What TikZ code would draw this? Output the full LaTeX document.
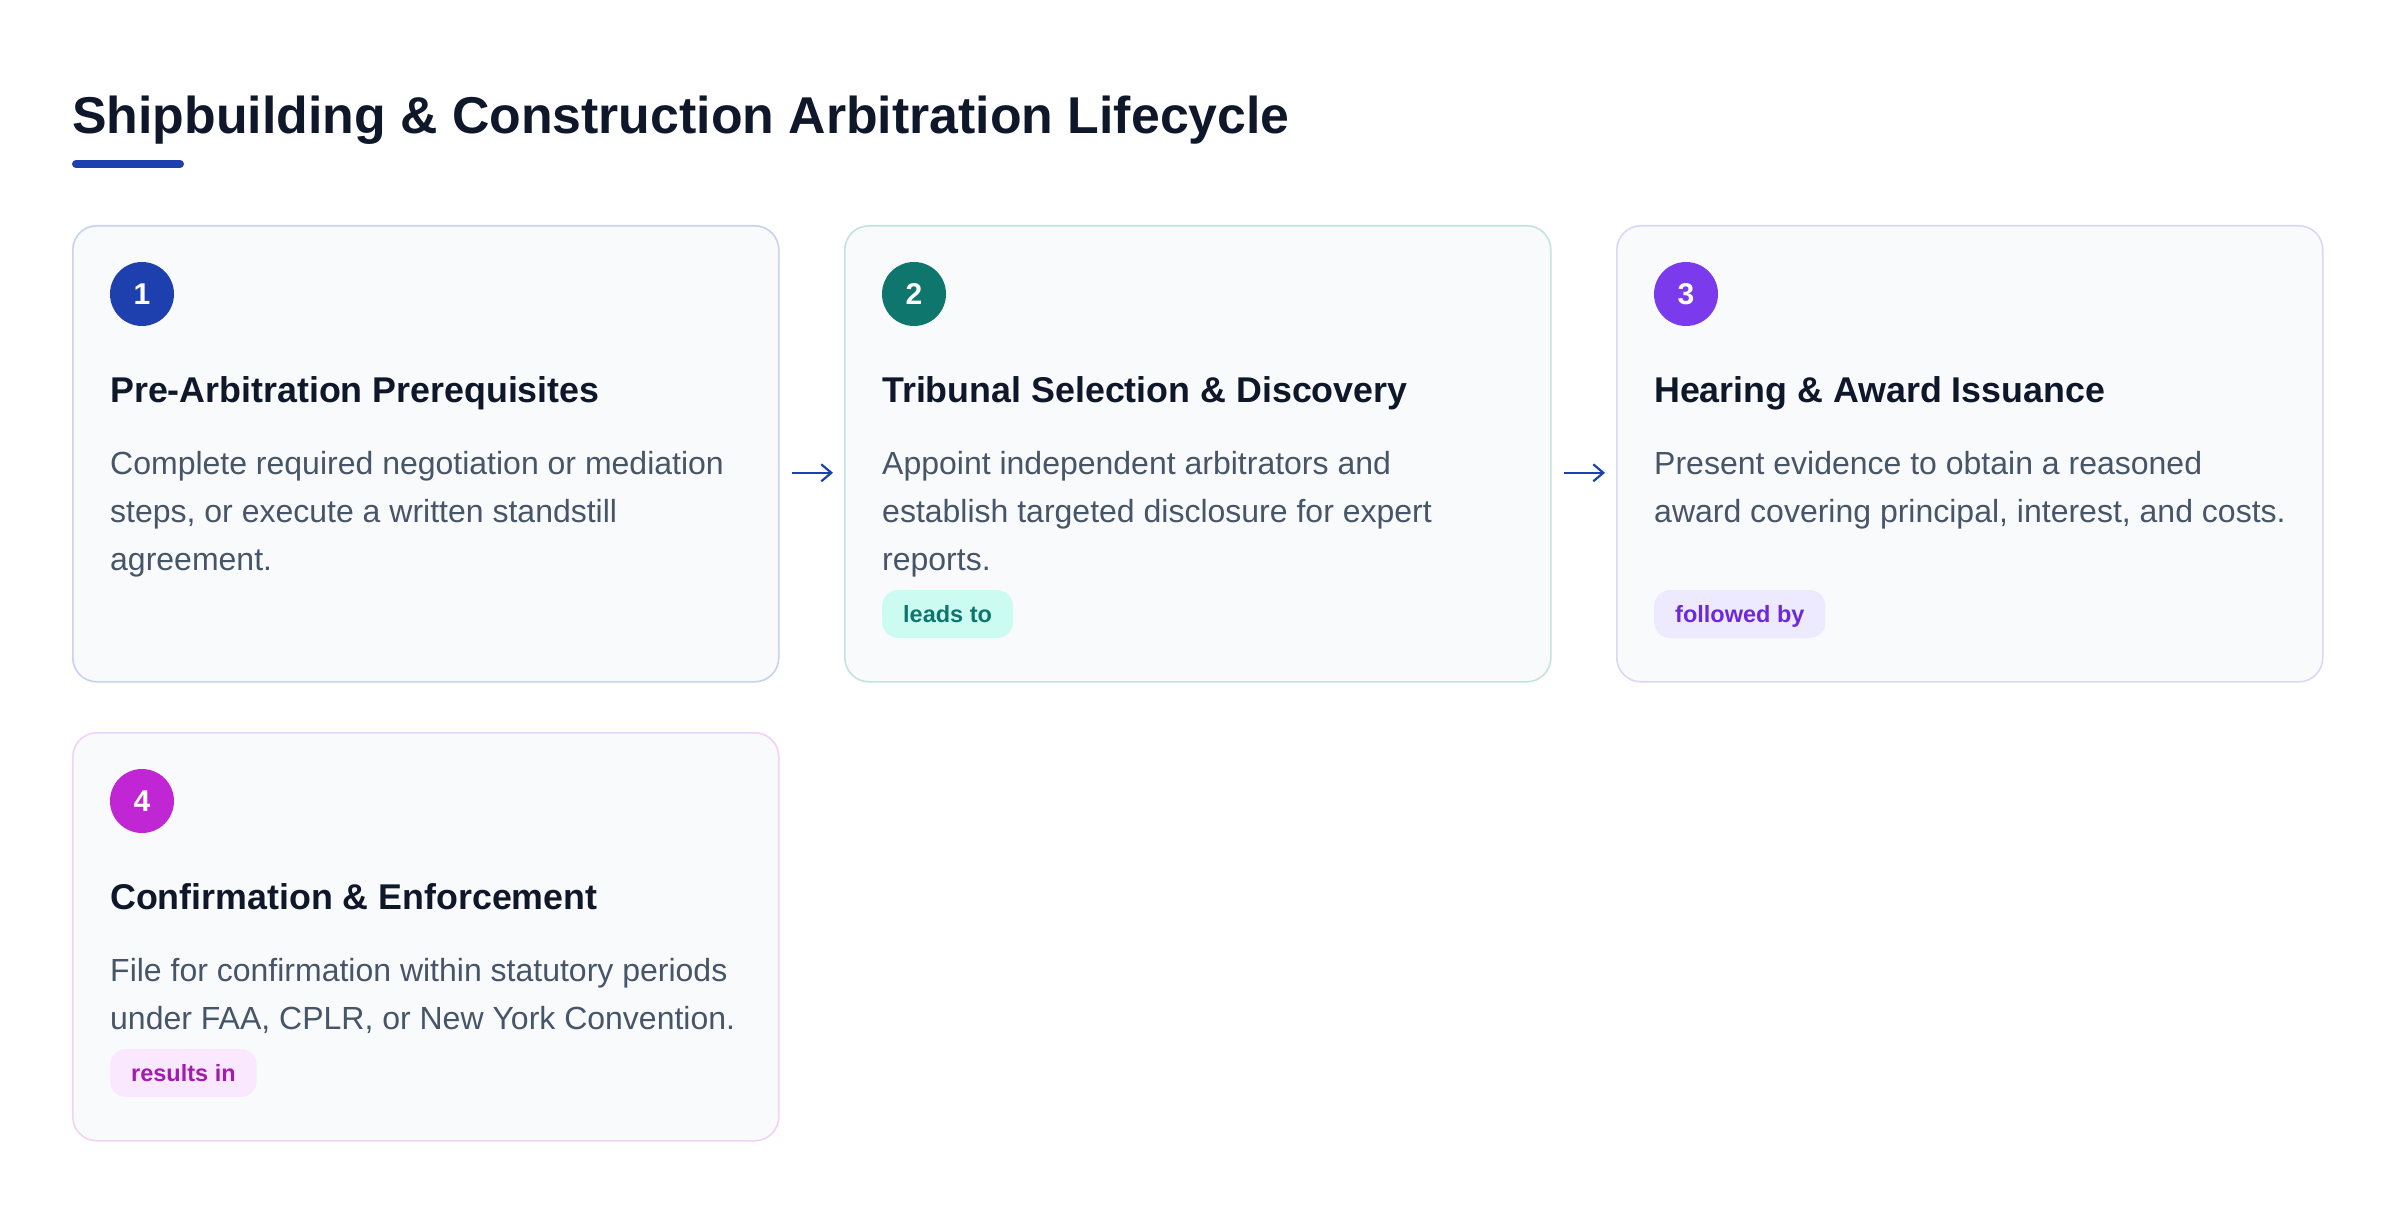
\documentclass[tikz,border=0pt]{standalone}
\usepackage{fontspec}
\setmainfont{Liberation Sans}
\usetikzlibrary{arrows.meta}
\definecolor{ink}{HTML}{0F172A}
\definecolor{slate}{HTML}{475569}
\definecolor{cardfill}{HTML}{F8FAFC}
\definecolor{blueone}{HTML}{1E40AF}
\definecolor{tealtwo}{HTML}{0F766E}
\definecolor{purplethree}{HTML}{7C3AED}
\definecolor{pinkfour}{HTML}{C026D3}
\definecolor{bordone}{HTML}{C7D2F0}
\definecolor{bordtwo}{HTML}{C5E2DF}
\definecolor{bordthree}{HTML}{DDD6FB}
\definecolor{bordfour}{HTML}{F2D2F6}
\definecolor{leadsfill}{HTML}{CCFBF1}
\definecolor{followfill}{HTML}{EDE9FE}
\definecolor{followtext}{HTML}{6D28D9}
\definecolor{resultfill}{HTML}{FAE8FF}
\definecolor{resulttext}{HTML}{A21CAF}
\begin{document}
\begin{tikzpicture}[x=1pt,y=-1pt]
	\def \colone{72}
	\def \coltwo{844}
	\def \colthree{1616}
	\def \rowone{225}
	\def \rowtwo{732}
	\tikzstyle{card}=[rectangle,rounded corners=24pt,fill=cardfill,line width=1.6pt,minimum width=706pt,inner sep=0pt,anchor=north west]
	\tikzstyle{num-node}=[circle,inner sep=0pt,minimum size=64pt,text=white,font=\fontsize{30}{30}\selectfont\bfseries]
	\tikzstyle{head}=[anchor=base west,inner sep=0pt,text=ink,font=\fontsize{35.8}{40}\selectfont\bfseries]
	\tikzstyle{body}=[anchor=base west,inner sep=0pt,align=left,text=slate,font=\fontsize{32}{48}\selectfont]
	\tikzstyle{pill}=[rectangle,rounded corners=16pt,anchor=west,inner xsep=21pt,inner ysep=0pt,minimum height=48pt,text height=17pt,text depth=0pt,font=\fontsize{23.5}{24}\selectfont\bfseries]
	\tikzstyle{flow}=[-{Straight Barb[length=10pt,width=17pt]},line width=2.2pt,draw=blueone,shorten <=12pt,shorten >=11pt]

	\useasboundingbox (0,0) rectangle (2400,1214);
	\fill[white] (0,0) rectangle (2400,1214);

	% title
	\node[anchor=base west,inner sep=0pt,text=ink,font=\fontsize{51.8}{56}\selectfont\bfseries] (title) at (72,134) {Shipbuilding \& Construction Arbitration Lifecycle};
	\draw[blueone,line width=8pt,line cap=round] (76,164) -- (180,164);

	% cards
	\node[card,draw=bordone,minimum height=456pt] 	(c1)	at (\colone,\rowone)	{};
	\node[card,draw=bordtwo,minimum height=456pt] 	(c2)	at (\coltwo,\rowone)	{};
	\node[card,draw=bordthree,minimum height=456pt] (c3)	at (\colthree,\rowone)	{};
	\node[card,draw=bordfour,minimum height=408pt] 	(c4)	at (\colone,\rowtwo)	{};

	% step numbers
	\node[num-node,fill=blueone] 	(n1)	at (\colone+70,\rowone+69)	{1};
	\node[num-node,fill=tealtwo] 	(n2)	at (\coltwo+70,\rowone+69)	{2};
	\node[num-node,fill=purplethree] 	(n3)	at (\colthree+70,\rowone+69)	{3};
	\node[num-node,fill=pinkfour] 	(n4)	at (\colone+70,\rowtwo+69)	{4};

	% headings
	\node[head] 	(h1)	at (\colone+38,\rowone+177)	{Pre-Arbitration Prerequisites};
	\node[head] 	(h2)	at (\coltwo+38,\rowone+177)	{Tribunal Selection \& Discovery};
	\node[head] 	(h3)	at (\colthree+38,\rowone+177)	{Hearing \& Award Issuance};
	\node[head] 	(h4)	at (\colone+38,\rowtwo+177)	{Confirmation \& Enforcement};

	% descriptions (base = last line)
	\node[body] 	(b1)	at (\colone+38,\rowone+345)	{Complete required negotiation or mediation\\steps, or execute a written standstill\\agreement.};
	\node[body] 	(b2)	at (\coltwo+38,\rowone+345)	{Appoint independent arbitrators and\\establish targeted disclosure for expert\\reports.};
	\node[body] 	(b3)	at (\colthree+38,\rowone+297)	{Present evidence to obtain a reasoned\\award covering principal, interest, and costs.};
	\node[body] 	(b4)	at (\colone+38,\rowtwo+297)	{File for confirmation within statutory periods\\under FAA, CPLR, or New York Convention.};

	% relation tags
	\node[pill,fill=leadsfill,text=tealtwo] 	(p2)	at (\coltwo+38,\rowone+389)	{leads to};
	\node[pill,fill=followfill,text=followtext] 	(p3)	at (\colthree+38,\rowone+389)	{followed by};
	\node[pill,fill=resultfill,text=resulttext] 	(p4)	at (\colone+38,\rowtwo+341)	{results in};

	\path
		([yshift=-19pt]c1.east)	edge[flow]	([yshift=-19pt]c2.west)

		([yshift=-19pt]c2.east)	edge[flow]	([yshift=-19pt]c3.west);

\end{tikzpicture}
\end{document}
